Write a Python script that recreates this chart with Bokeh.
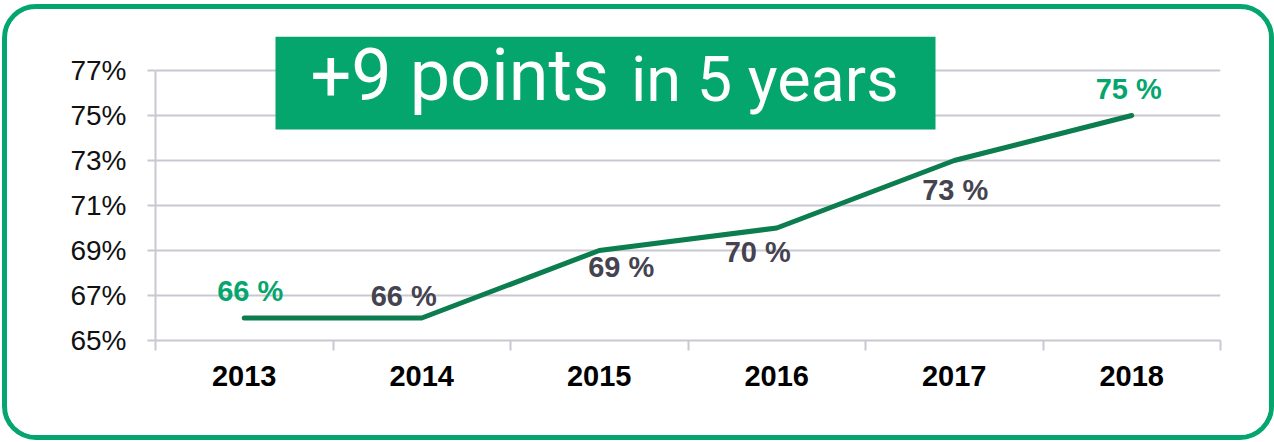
from bokeh.plotting import figure
from bokeh.models import (Range1d, FixedTicker, ColumnDataSource, BoxAnnotation)
from bokeh.embed import file_html
from bokeh.resources import INLINE
from bokeh.core.properties import value

# ---- data ----
years = ["2013", "2014", "2015", "2016", "2017", "2018"]
shares = [66, 66, 69, 70, 73, 75]
value_labels = ["66 %", "66 %", "69 %", "70 %", "73 %", "75 %"]
y_ticks = [65, 67, 69, 71, 73, 75, 77]
y_tick_labels = ["65%", "67%", "69%", "71%", "73%", "75%", "77%"]
title_big = "+9 points"
title_small = "in 5 years"

# ---- styles ----
GREEN = "#04a66d"
LINE_GREEN = "#0b7d4e"
DARK = "#45434f"
GRID = "#c9c7d2"
label_colors = [GREEN, DARK, DARK, DARK, DARK, GREEN]
label_dx = [6, -18, 22, -19, 1, -3]
label_dy = [-27, -22, 16, 24, 29, -27]

# ---- geometry (canvas px) ----
W, H = 1272, 436
F_LEFT, F_RIGHT = 148, 1213
F_TOP, TICK_TOP, F_BOTTOM = 27, 61, 331
px_per_unit = (F_BOTTOM - TICK_TOP) / (y_ticks[-1] - y_ticks[0])
y_top = y_ticks[-1] + (TICK_TOP - F_TOP) / px_per_unit
px_per_cat = (F_RIGHT - F_LEFT) / len(years)


def cx(px):  # canvas px -> data x
    return (px - F_LEFT) / px_per_cat


def cy(py):  # canvas px -> data y
    return y_ticks[0] + (F_BOTTOM - py) / px_per_unit


xs = [i + 0.5 for i in range(len(years))]

p = figure(width=W, height=H, output_backend="svg", toolbar_location=None,
           x_range=Range1d(0, len(years)), y_range=Range1d(y_ticks[0], y_top),
           min_border_left=F_LEFT, min_border_right=W - F_RIGHT, min_border_top=F_TOP,
           min_border_bottom=H - F_BOTTOM)
p.styles = {"border": f"5px solid {GREEN}", "border-radius": "34px",
            "overflow": "hidden", "margin-left": "2px", "margin-top": "4px"}
p.outline_line_color = None
p.background_fill_color = "white"
p.border_fill_color = "white"

# grid
p.xgrid.grid_line_color = None
p.ygrid.grid_line_color = GRID
p.ygrid.grid_line_width = 2

# y axis
p.yaxis.ticker = FixedTicker(ticks=y_ticks)
p.yaxis.bounds = (y_ticks[0], y_ticks[-1])
p.yaxis.major_label_overrides = {t: l for t, l in zip(y_ticks, y_tick_labels)}
p.yaxis.axis_line_color = GRID
p.yaxis.axis_line_width = 2
p.yaxis.major_tick_line_color = GRID
p.yaxis.major_tick_line_width = 2
p.yaxis.major_tick_out = 8
p.yaxis.major_tick_in = 0
p.yaxis.minor_tick_line_color = None
p.yaxis.major_label_standoff = 21
p.yaxis.major_label_text_font = "Liberation Sans"
p.yaxis.major_label_text_font_size = "28px"
p.yaxis.major_label_text_color = "#111111"

# x axis
p.xaxis.ticker = FixedTicker(ticks=xs, minor_ticks=list(range(len(years) + 1)))
p.xaxis.major_label_overrides = {x: y for x, y in zip(xs, years)}
p.xaxis.axis_line_color = GRID
p.xaxis.axis_line_width = 2
p.xaxis.major_tick_line_color = None
p.xaxis.major_tick_out = 0
p.xaxis.major_tick_in = 0
p.xaxis.minor_tick_line_color = GRID
p.xaxis.minor_tick_line_width = 2
p.xaxis.minor_tick_out = 10
p.xaxis.minor_tick_in = 0
p.xaxis.major_label_standoff = 15
p.xaxis.major_label_text_font = "Liberation Sans"
p.xaxis.major_label_text_font_style = "bold"
p.xaxis.major_label_text_font_size = "29px"
p.xaxis.major_label_text_color = "#000000"

src = ColumnDataSource(dict(x=xs, y=shares, lab=value_labels, col=label_colors,
                            dx=label_dx, dy=label_dy))

p.line("x", "y", source=src, line_color=LINE_GREEN, line_width=5,
       line_cap="round", line_join="round")

p.text("x", "y", text="lab", source=src, text_color="col", x_offset="dx", y_offset="dy",
       text_align="center", text_baseline="middle", text_font=value("Liberation Sans"),
       text_font_style="bold", text_font_size="29px")

# title box (covers the grid lines, below the texts)
box = BoxAnnotation(left=cx(268), right=cx(928), top=cy(F_TOP), bottom=cy(120),
                    fill_color=GREEN, fill_alpha=1.0, line_color=None, level="underlay")
p.add_layout(box)
tsrc = ColumnDataSource(dict(x=[cx(303), cx(623.5)], y=[cy(65.5), cy(70)],
                             t=[title_big, title_small], fs=["72px", "63px"]))
p.text("x", "y", text="t", source=tsrc, text_color="white",
       text_font=value("Roboto"), text_font_size="fs",
       text_align="left", text_baseline="middle")

open("out.html", "w").write(file_html(p, INLINE))
